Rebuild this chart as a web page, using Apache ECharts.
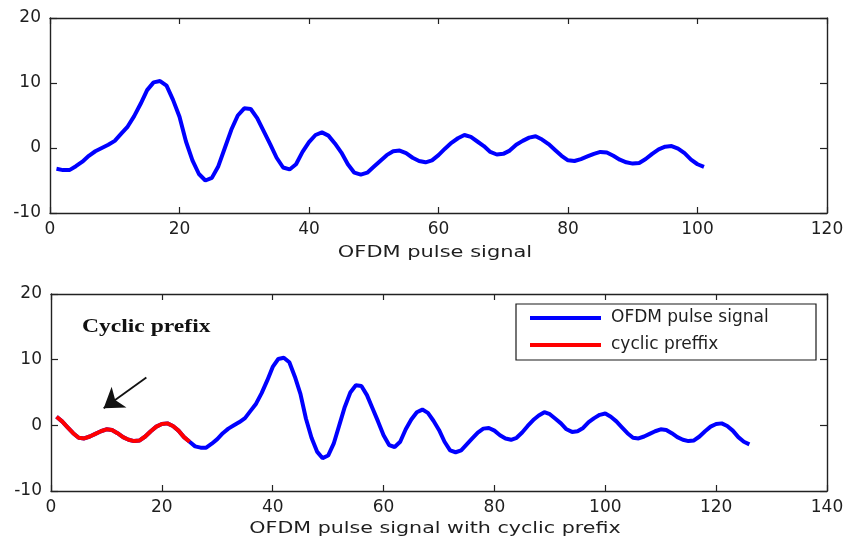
<!DOCTYPE html>
<html>
<head>
<meta charset="utf-8">
<script src="https://cdn.jsdelivr.net/npm/echarts@6/dist/echarts.min.js"></script>
<style>
  html, body { margin: 0; padding: 0; background: #fff; }
  #chart { width: 848px; height: 544px; }
</style>
</head>
<body>
<div id="chart"></div>
<script>
// OFDM pulse samples 1..101
const signal = [
  -3.2, -3.4, -3.4, -2.8, -2.1, -1.2, -0.5, 0.0, 0.5, 1.1,
   2.2,  3.3,  4.9,  6.8,  8.9, 10.1, 10.3, 9.6, 7.4, 4.8,
   1.0, -1.9, -4.0, -5.0, -4.6, -2.8,  0.0, 2.8, 5.0, 6.1,
   6.0,  4.6,  2.6,  0.6, -1.5, -3.0, -3.3, -2.5, -0.6, 0.9,
   2.0,  2.4,  1.9,  0.7, -0.7, -2.5, -3.8, -4.1, -3.8, -2.9,
  -2.0, -1.1, -0.5, -0.4, -0.8, -1.5, -2.0, -2.2, -1.9, -1.1,
  -0.1,  0.8,  1.5,  2.0,  1.7,  1.0,  0.3, -0.6, -1.0, -0.9,
  -0.4,  0.5,  1.1,  1.6,  1.8,  1.3,  0.6, -0.3, -1.2, -1.9,
  -2.0, -1.7, -1.3, -0.9, -0.6, -0.7, -1.2, -1.8, -2.2, -2.4,
  -2.3, -1.7, -0.9, -0.2,  0.2,  0.3, -0.1, -0.8, -1.8, -2.5,
  -2.9
];
// cyclic prefix: samples 76..100 of the pulse, placed in front of it
const prefixLength = 25;
const prefixEnd = 100;

// axis ticks
const yTicks = [-10, 0, 10, 20];
const topXTicks = [0, 20, 40, 60, 80, 100, 120];
const bottomXTicks = [0, 20, 40, 60, 80, 100, 120, 140];

// annotation arrow (data coordinates of the lower plot)
const arrowFrom = [17.2, 7.3];
const arrowTo = [9.5, 2.6];

const seriesNames = ['OFDM pulse signal', 'cyclic preffix'];

const prefix = signal.slice(prefixEnd - prefixLength, prefixEnd);
const withPrefix = prefix.concat(signal);

const toPoints = (arr) => arr.map((v, i) => [i + 1, v]);

const FONT = 'DejaVu Sans';
const axisColor = '#222222';

function range(ticks) {
  return { min: ticks[0], max: ticks[ticks.length - 1], interval: ticks[1] - ticks[0] };
}

function xAxisPair(gridIndex, ticks) {
  const r = range(ticks);
  const base = {
    type: 'value', gridIndex, min: r.min, max: r.max, interval: r.interval,
    splitLine: { show: false },
    axisLine: { show: true, onZero: false, lineStyle: { color: axisColor, width: 1.4 } },
    axisTick: { show: true, inside: true, length: 6, lineStyle: { color: axisColor, width: 1.2 } }
  };
  return [
    Object.assign({}, base, {
      position: 'bottom',
      axisLabel: { show: true, margin: 8, fontFamily: FONT, fontSize: 17, color: '#1e1e1e' }
    }),
    Object.assign({}, base, { position: 'top', axisLabel: { show: false } })
  ];
}

function yAxisPair(gridIndex, ticks) {
  const r = range(ticks);
  const base = {
    type: 'value', gridIndex, min: r.min, max: r.max, interval: r.interval,
    splitLine: { show: false },
    axisLine: { show: true, onZero: false, lineStyle: { color: axisColor, width: 1.4 } },
    axisTick: { show: true, inside: true, length: 7, lineStyle: { color: axisColor, width: 1.2 } }
  };
  return [
    Object.assign({}, base, {
      position: 'left',
      axisLabel: { show: true, margin: 9, fontFamily: FONT, fontSize: 17, color: '#1e1e1e' }
    }),
    Object.assign({}, base, { position: 'right', axisLabel: { show: false } })
  ];
}

const chart = echarts.init(document.getElementById('chart'), null, { renderer: 'canvas' });

const option = {
  animation: false,
  backgroundColor: '#ffffff',
  grid: [
    { left: 50, top: 18, width: 777, height: 195 },
    { left: 51, top: 294, width: 776, height: 197 }
  ],
  xAxis: [].concat(xAxisPair(0, topXTicks), xAxisPair(1, bottomXTicks)),
  yAxis: [].concat(yAxisPair(0, yTicks), yAxisPair(1, yTicks)),
  legend: {
    data: seriesNames,
    orient: 'vertical',
    left: 516,
    top: 304,
    backgroundColor: '#ffffff',
    borderColor: '#1a1a1a',
    borderWidth: 1.2,
    padding: [5, 8, 6, 14],
    itemGap: 9,
    itemWidth: 71,
    itemHeight: 4,
    icon: 'rect',
    selectedMode: false,
    textStyle: {
      fontFamily: FONT, fontSize: 17, color: '#1e1e1e',
      lineHeight: 18, width: 197, overflow: 'none', padding: [0, 0, 0, 5]
    }
  },
  series: [
    {
      name: seriesNames[0], type: 'line', xAxisIndex: 0, yAxisIndex: 0,
      data: toPoints(signal), showSymbol: false, symbol: 'none',
      lineStyle: { color: '#0000ff', width: 4 }, itemStyle: { color: '#0000ff' }
    },
    {
      name: seriesNames[0], type: 'line', xAxisIndex: 2, yAxisIndex: 2,
      data: toPoints(withPrefix), showSymbol: false, symbol: 'none',
      lineStyle: { color: '#0000ff', width: 4 }, itemStyle: { color: '#0000ff' }
    },
    {
      name: seriesNames[1], type: 'line', xAxisIndex: 2, yAxisIndex: 2, z: 3,
      data: toPoints(prefix), showSymbol: false, symbol: 'none',
      lineStyle: { color: '#ff0000', width: 4 }, itemStyle: { color: '#ff0000' },
      markLine: {
        silent: true,
        symbol: ['none', 'arrow'],
        symbolSize: 19,
        label: { show: false },
        lineStyle: { color: '#111111', width: 1.8, type: 'solid' },
        emphasis: { disabled: true },
        data: [[{ coord: arrowFrom }, { coord: arrowTo }]]
      }
    }
  ],
  graphic: [
    {
      type: 'text', x: 435, y: 253, scaleX: 1.27,
      style: {
        text: 'OFDM pulse signal', fontFamily: FONT, fontSize: 16.5,
        fill: '#1e1e1e', align: 'center', verticalAlign: 'middle'
      }
    },
    {
      type: 'text', x: 435, y: 529, scaleX: 1.25,
      style: {
        text: 'OFDM pulse signal with cyclic prefix', fontFamily: FONT, fontSize: 16.5,
        fill: '#1e1e1e', align: 'center', verticalAlign: 'middle'
      }
    },
    {
      type: 'text', x: 82, y: 327, scaleX: 1.24,
      style: {
        text: 'Cyclic prefix', fontFamily: 'Liberation Serif', fontWeight: 'bold', fontSize: 19,
        fill: '#111111', align: 'left', verticalAlign: 'middle'
      }
    }
  ]
};

chart.setOption(option);
</script>
</body>
</html>
